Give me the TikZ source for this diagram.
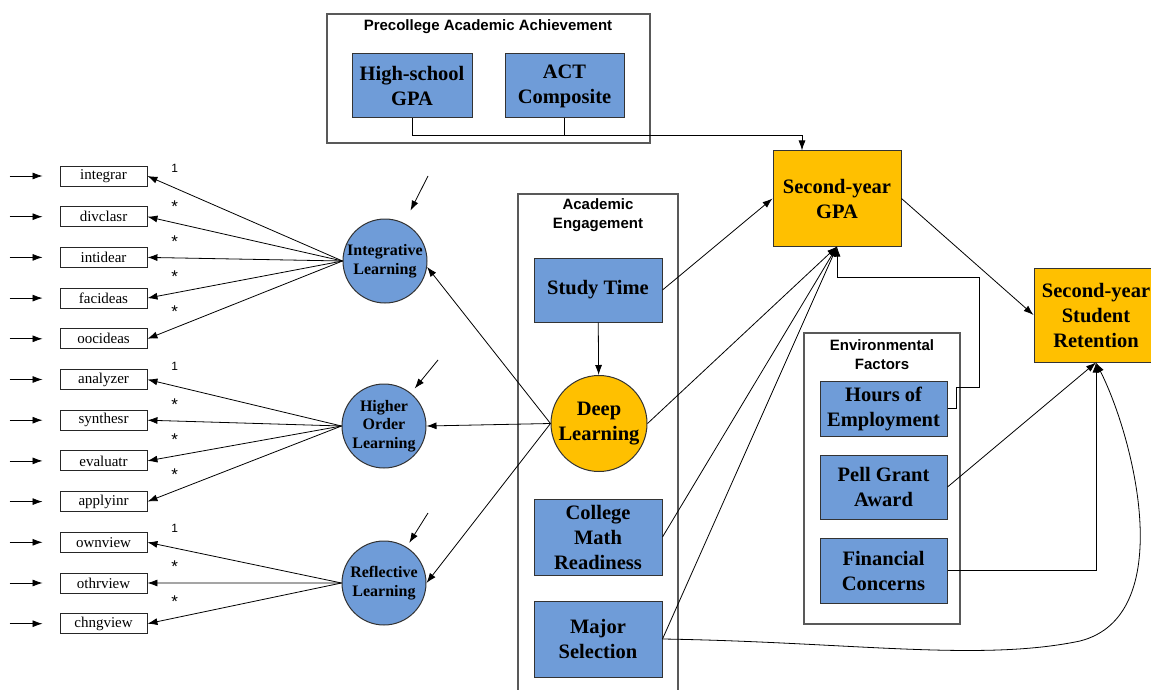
\documentclass[tikz,border=0pt]{standalone}
\usepackage{fontspec}
\setmainfont{Liberation Serif}
\setsansfont{Liberation Sans}
\usetikzlibrary{arrows.meta,positioning}
\definecolor{pathblue}{RGB}{111,156,216}
\definecolor{pathgold}{RGB}{255,192,0}

\begin{document}
\begin{tikzpicture}[
    x=1pt, y=1pt,
    box/.style={draw=black!80, line width=1pt, fill=pathblue, align=center, inner sep=1pt, font=\fontsize{20.5}{25}\selectfont\bfseries},
    outc/.style={box, fill=pathgold},
    latent/.style={circle, draw=black!80, line width=1pt, fill=pathblue, align=center, inner sep=0pt, minimum size=84pt, font=\fontsize{16}{18.5}\selectfont\bfseries},
    ind/.style={draw=black!85, line width=0.9pt, minimum width=87pt, minimum height=20pt, inner sep=0pt, font=\fontsize{15}{17}\selectfont},
    grp/.style={draw=black!65, line width=1.3pt},
    grptitle/.style={align=center, font=\fontsize{15}{19}\selectfont\sffamily\bfseries},
    lbl/.style={font=\fontsize{12}{12}\selectfont\sffamily, inner sep=0pt},
    star/.style={font=\fontsize{17}{17}\selectfont\sffamily, inner sep=0pt},
    arr/.style={-{Latex[length=10pt,width=7pt]}, line width=0.8pt}
  ]
    \useasboundingbox (0,0) rectangle (1151,-690);

    \node[grp, minimum width=323pt, minimum height=129pt] (pregrp) at (488.5,-78.5) {};
    \node[grptitle] (pretitle) at (488,-27) {Precollege Academic Achievement};
    \node[box, minimum width=120pt, minimum height=64pt] (hsgpa) at (412,-86) {High-school\\GPA};
    \node[box, minimum width=119pt, minimum height=64pt] (act) at (564.5,-86) {ACT\\Composite};

    \node[grp, minimum width=160pt, minimum height=506pt] (acadgrp) at (598,-447) {};
    \node[grptitle] (acadtitle) at (598,-215.5) {Academic\\Engagement};
    \node[box, minimum width=128pt, minimum height=64pt] (study) at (598,-290) {Study Time};
    \node[latent, fill=pathgold, minimum size=96pt, font=\fontsize{20.5}{25}\selectfont\bfseries] (deep) at (599,-423.5) {Deep\\Learning};
    \node[box, minimum width=128pt, minimum height=76pt] (math) at (598,-537) {College\\Math\\Readiness};
    \node[box, minimum width=128pt, minimum height=76pt] (major) at (598,-639) {Major\\Selection};

    \node[grp, minimum width=156pt, minimum height=291pt] (envgrp) at (882,-478.5) {};
    \node[grptitle] (envtitle) at (882,-355) {Environmental\\Factors};
    \node[box, minimum width=127pt, minimum height=55pt] (hours) at (883.5,-408.5) {Hours of\\Employment};
    \node[box, minimum width=127pt, minimum height=64pt] (pell) at (883.5,-487) {Pell Grant\\Award};
    \node[box, minimum width=127pt, minimum height=65pt] (fin) at (883.5,-570.5) {Financial\\Concerns};

    \node[outc, minimum width=128pt, minimum height=95pt] (gpa) at (837,-198.5) {Second-year\\GPA};
    \node[outc, minimum width=124pt, minimum height=94pt] (ret) at (1096,-315) {Second-year\\Student\\Retention};

    \node[latent] (int) at (385,-261) {Integrative\\Learning};
    \node[latent] (hol) at (384,-426) {Higher\\Order\\Learning};
    \node[latent] (refl) at (384,-583) {Reflective\\Learning};

    \node[ind] (integrar) at (103.5,-176) {integrar};
    \node[ind, below=19.8pt of integrar] (divclasr) {divclasr};
    \node[ind, below=19.8pt of divclasr] (intidear) {intidear};
    \node[ind, below=19.8pt of intidear] (facideas) {facideas};
    \node[ind, below=19.8pt of facideas] (oocideas) {oocideas};
    \node[ind, below=19.8pt of oocideas] (analyzer) {analyzer};
    \node[ind, below=19.8pt of analyzer] (synthesr) {synthesr};
    \node[ind, below=19.8pt of synthesr] (evaluatr) {evaluatr};
    \node[ind, below=19.8pt of evaluatr] (applyinr) {applyinr};
    \node[ind, below=19.8pt of applyinr] (ownview) {ownview};
    \node[ind, below=19.8pt of ownview] (othrview) {othrview};
    \node[ind, below=19.8pt of othrview] (chngview) {chngview};

    \draw[arr, shorten >=17pt] ([xshift=-50pt]integrar.west) -- (integrar.west);
    \draw[arr, shorten >=17pt] ([xshift=-50pt]divclasr.west) -- (divclasr.west);
    \draw[arr, shorten >=17pt] ([xshift=-50pt]intidear.west) -- (intidear.west);
    \draw[arr, shorten >=17pt] ([xshift=-50pt]facideas.west) -- (facideas.west);
    \draw[arr, shorten >=17pt] ([xshift=-50pt]oocideas.west) -- (oocideas.west);
    \draw[arr, shorten >=17pt] ([xshift=-50pt]analyzer.west) -- (analyzer.west);
    \draw[arr, shorten >=17pt] ([xshift=-50pt]synthesr.west) -- (synthesr.west);
    \draw[arr, shorten >=17pt] ([xshift=-50pt]evaluatr.west) -- (evaluatr.west);
    \draw[arr, shorten >=17pt] ([xshift=-50pt]applyinr.west) -- (applyinr.west);
    \draw[arr, shorten >=17pt] ([xshift=-50pt]ownview.west) -- (ownview.west);
    \draw[arr, shorten >=17pt] ([xshift=-50pt]othrview.west) -- (othrview.west);
    \draw[arr, shorten >=17pt] ([xshift=-50pt]chngview.west) -- (chngview.west);

    \draw[arr] (int.west) -- node[lbl, pos=0.86, above=15pt] (lint1) {1} (integrar.east);
    \draw[arr] (int.west) -- node[star, pos=0.86, above=10pt] (lint2) {*} (divclasr.east);
    \draw[arr] (int.west) -- node[star, pos=0.86, above=10pt] (lint3) {*} (intidear.east);
    \draw[arr] (int.west) -- node[star, pos=0.86, above=10pt] (lint4) {*} (facideas.east);
    \draw[arr] (int.west) -- node[star, pos=0.86, above=10pt] (lint5) {*} (oocideas.east);
    \draw[arr] (hol.west) -- node[lbl, pos=0.86, above=15pt] (lhol1) {1} (analyzer.east);
    \draw[arr] (hol.west) -- node[star, pos=0.86, above=10pt] (lhol2) {*} (synthesr.east);
    \draw[arr] (hol.west) -- node[star, pos=0.86, above=10pt] (lhol3) {*} (evaluatr.east);
    \draw[arr] (hol.west) -- node[star, pos=0.86, above=10pt] (lhol4) {*} (applyinr.east);
    \draw[arr] (refl.west) -- node[lbl, pos=0.86, above=15pt] (lrefl1) {1} (ownview.east);
    \draw[arr] (refl.west) -- node[star, pos=0.86, above=10pt] (lrefl2) {*} (othrview.east);
    \draw[arr] (refl.west) -- node[star, pos=0.86, above=10pt] (lrefl3) {*} (chngview.east);

    \coordinate (dint) at (428,-176);
    \coordinate (dhol) at (438,-360);
    \coordinate (drefl) at (428,-513);
    \draw[arr, shorten >=14pt] (dint) -- (int);
    \draw[arr, shorten >=6pt] (dhol) -- (hol);
    \draw[arr, shorten >=5pt] (drefl) -- (refl);

    \draw[arr] (deep.west) -- (int.-8);
    \draw[arr] (deep.west) -- (hol.east);
    \draw[arr] (deep.west) -- (refl.east);
    \draw[arr] (study) -- (deep);

    \coordinate (prej) at (802,-135);
    \draw[line width=0.9pt] (hsgpa.south) |- (prej);
    \draw[arr, line width=0.9pt] (act.south) |- (prej) -- (gpa.north -| prej);

    \draw[arr] (study.east) -- (gpa.west);
    \draw[arr] (deep.east) -- (gpa.south);
    \draw[arr] (math.east) -- (gpa.south);
    \draw[arr] (major.east) -- (gpa.south);
    \coordinate (hturn) at (979,-277);
    \draw[arr] (hours.east) -- ++(9,0) -- ++(0,21) -| (hturn) -| (gpa.south);

    \draw[arr] (gpa.east) -- (ret.west);
    \draw[arr] (pell.east) -- (ret.south);
    \draw[arr] (fin.east) -| (ret.south);
    \draw[arr] (major.east) .. controls (850,-642) and (980,-662) .. (1080,-641) .. controls (1178,-616) and (1135,-440) .. (ret.south);
  \end{tikzpicture}
\end{document}
